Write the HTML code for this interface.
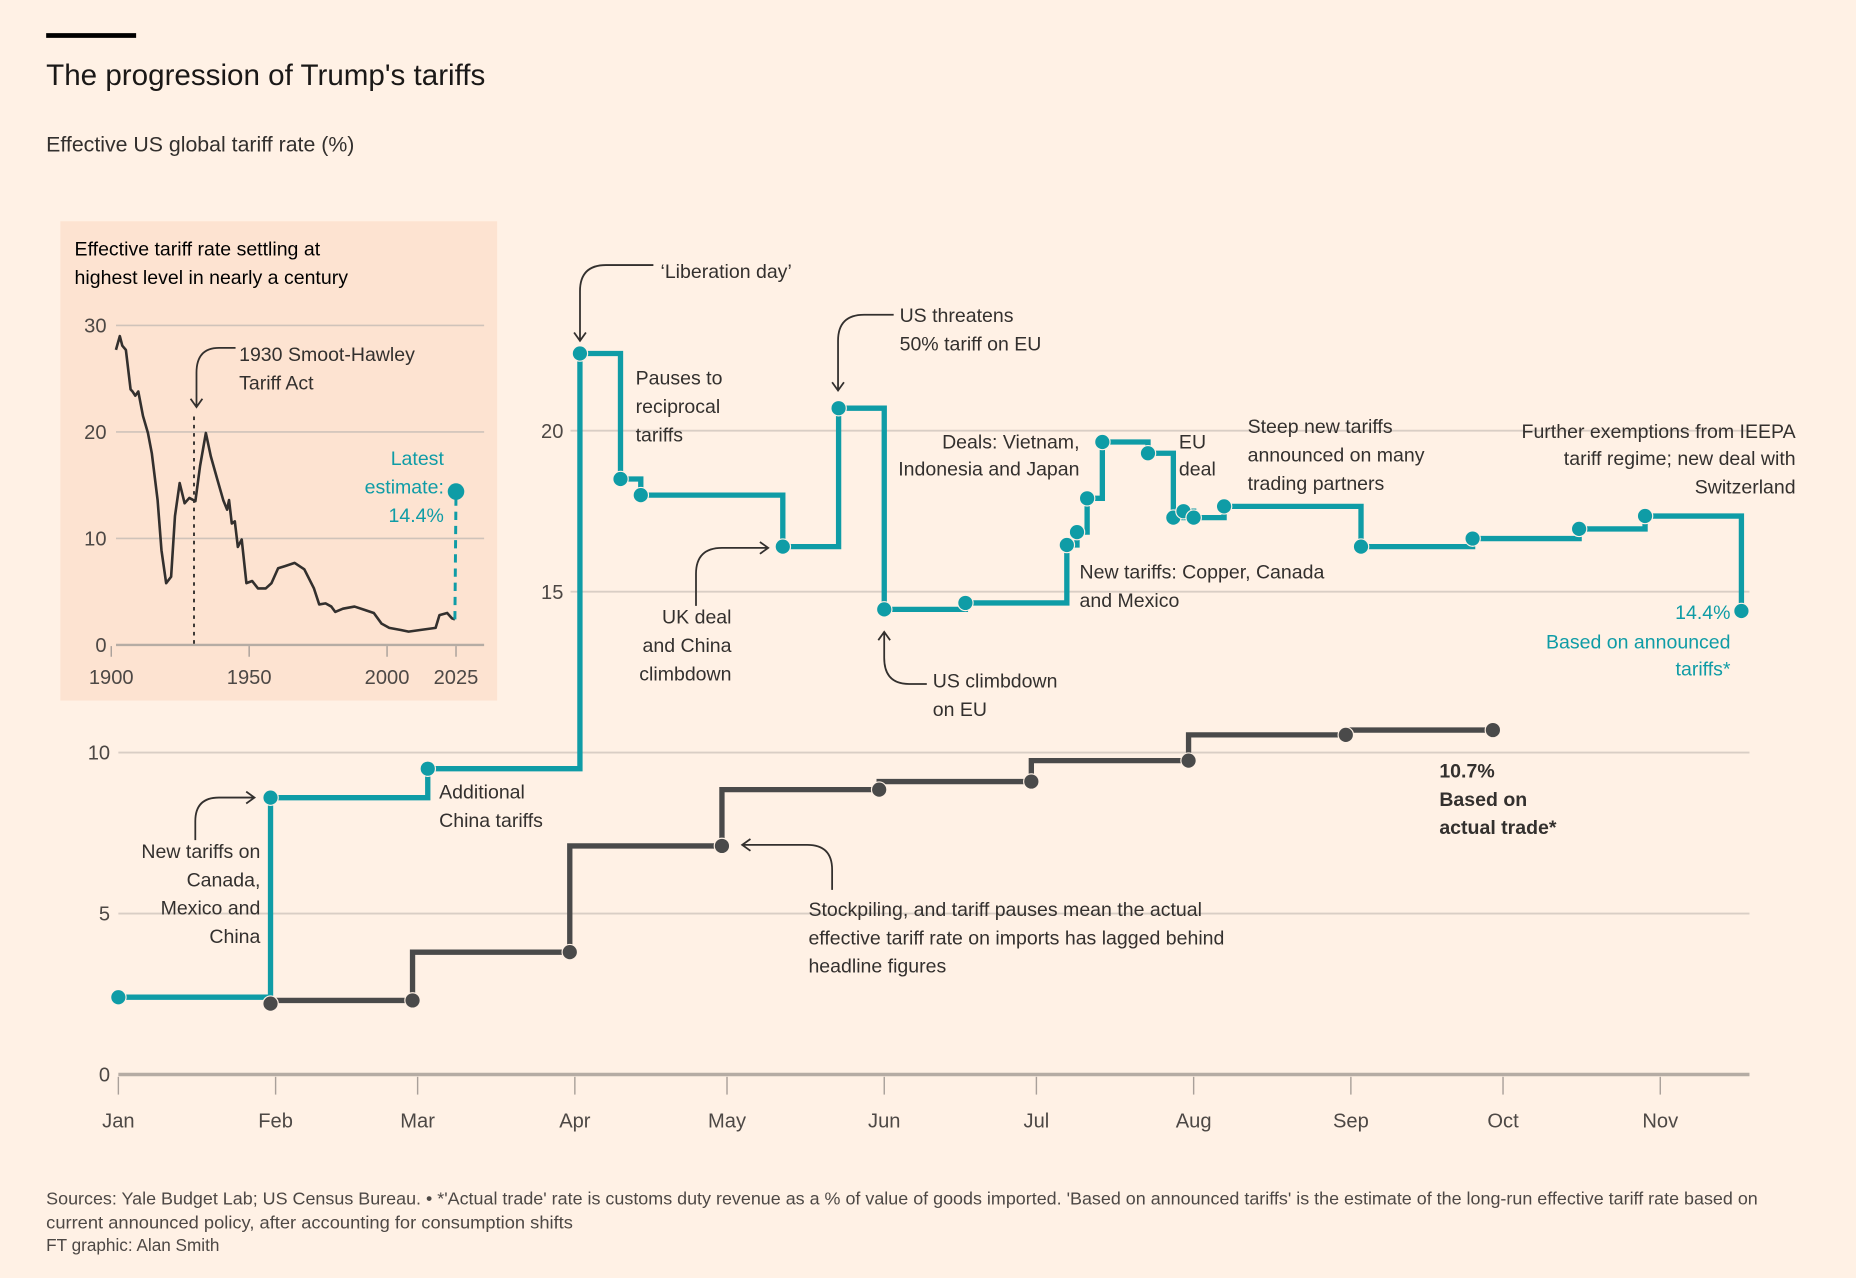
<!DOCTYPE html>
<html><head><meta charset="utf-8"><style>
html,body{margin:0;padding:0;background:#fff1e5;}
svg{display:block;font-family:"Liberation Sans",sans-serif;}
.ann{font-size:16.5px;fill:#33302e;}
.tk{font-size:17px;fill:#4d4845;}
</style></head><body>
<svg id="chart" width="1856" height="1278" viewBox="0 0 1568 1080" preserveAspectRatio="none" xmlns="http://www.w3.org/2000/svg">
<rect x="0" y="0" width="1568" height="1080" fill="#fff1e5"/>
<rect x="39" y="28" width="76" height="4" fill="#000"/>
<text x="39" y="72" font-size="25" fill="#1a1817">The progression of Trump's tariffs</text>
<text x="39" y="128" font-size="18" fill="#33302e">Effective US global tariff rate (%)</text>

<g id="inset">
<rect x="51" y="187" width="369" height="405" fill="#fde3d1"/>
<text x="63" y="216" font-size="16.5" fill="#000">Effective tariff rate settling at</text>
<text x="63" y="240" font-size="16.5" fill="#000">highest level in nearly a century</text>
<g id="inset-grid"></g>
<text class="ann" x="202" y="305">1930 Smoot-Hawley</text>
<text class="ann" x="202" y="329">Tariff Act</text>
<path d="M199,294 H185 Q166,294 166,315 V344 M161,337 L166,344 L171,337" fill="none" stroke="#33302e" stroke-width="1.5"/>
<text font-size="16.5" fill="#0f9ca6" text-anchor="end" x="375" y="393">Latest</text>
<text font-size="16.5" fill="#0f9ca6" text-anchor="end" x="375" y="417">estimate:</text>
<text font-size="16.5" fill="#0f9ca6" text-anchor="end" x="375" y="441">14.4%</text>
</g>

<g id="main-grid"></g>
<g id="main-series"></g>

<g>
<text class="ann" x="558" y="235">‘Liberation day’</text>
<path d="M552,224 H512 Q490,224 490,246 V288 M485,281 L490,288 L495,281" fill="none" stroke="#33302e" stroke-width="1.5"/>
<text class="ann" x="537" y="325">Pauses to</text>
<text class="ann" x="537" y="349">reciprocal</text>
<text class="ann" x="537" y="373">tariffs</text>
<text class="ann" x="760" y="272">US threatens</text>
<text class="ann" x="760" y="296">50% tariff on EU</text>
<path d="M755,266 H730 Q708,266 708,288 V330 M703,323 L708,330 L713,323" fill="none" stroke="#33302e" stroke-width="1.5"/>
<text class="ann" text-anchor="end" x="912" y="379">Deals: Vietnam,</text>
<text class="ann" text-anchor="end" x="912" y="402">Indonesia and Japan</text>
<text class="ann" x="996" y="379">EU</text>
<text class="ann" x="996" y="402">deal</text>
<text class="ann" x="1054" y="366">Steep new tariffs</text>
<text class="ann" x="1054" y="390">announced on many</text>
<text class="ann" x="1054" y="414">trading partners</text>
<text class="ann" text-anchor="end" x="1517" y="370">Further exemptions from IEEPA</text>
<text class="ann" text-anchor="end" x="1517" y="393">tariff regime; new deal with</text>
<text class="ann" text-anchor="end" x="1517" y="417">Switzerland</text>
<text class="ann" x="912" y="489">New tariffs: Copper, Canada</text>
<text class="ann" x="912" y="513">and Mexico</text>
<text font-size="16.5" fill="#0f9ca6" text-anchor="end" x="1462" y="523">14.4%</text>
<text font-size="16.5" fill="#0f9ca6" text-anchor="end" x="1462" y="548">Based on announced</text>
<text font-size="16.5" fill="#0f9ca6" text-anchor="end" x="1462" y="571">tariffs*</text>
<text class="ann" text-anchor="end" x="618" y="527">UK deal</text>
<text class="ann" text-anchor="end" x="618" y="551">and China</text>
<text class="ann" text-anchor="end" x="618" y="575">climbdown</text>
<path d="M588,512 V485 Q588,463 610,463 H649 M642,458 L649,463 L642,468" fill="none" stroke="#33302e" stroke-width="1.5"/>
<text class="ann" x="788" y="581">US climbdown</text>
<text class="ann" x="788" y="605">on EU</text>
<path d="M783,578 H768 Q747,578 747,556 V534 M742,541 L747,534 L752,541" fill="none" stroke="#33302e" stroke-width="1.5"/>
<text class="ann" x="371" y="675">Additional</text>
<text class="ann" x="371" y="699">China tariffs</text>
<text class="ann" text-anchor="end" x="220" y="725">New tariffs on</text>
<text class="ann" text-anchor="end" x="220" y="749">Canada,</text>
<text class="ann" text-anchor="end" x="220" y="773">Mexico and</text>
<text class="ann" text-anchor="end" x="220" y="797">China</text>
<path d="M165,710 V694 Q165,674 185,674 H215 M208,669 L215,674 L208,679" fill="none" stroke="#33302e" stroke-width="1.5"/>
<text font-size="16.5" font-weight="bold" fill="#33302e" x="1216" y="657">10.7%</text>
<text font-size="16.5" font-weight="bold" fill="#33302e" x="1216" y="681">Based on</text>
<text font-size="16.5" font-weight="bold" fill="#33302e" x="1216" y="705">actual trade*</text>
<text class="ann" x="683" y="774">Stockpiling, and tariff pauses mean the actual</text>
<text class="ann" x="683" y="798">effective tariff rate on imports has lagged behind</text>
<text class="ann" x="683" y="822">headline figures</text>
<path d="M703,752 V735 Q703,714 682,714 H627 M634,709 L627,714 L634,719" fill="none" stroke="#33302e" stroke-width="1.5"/>
</g>

<g>
<text x="39" y="1018" font-size="14.5" fill="#4d4845" textLength="1446" lengthAdjust="spacingAndGlyphs">Sources: Yale Budget Lab; US Census Bureau. • *'Actual trade' rate is customs duty revenue as a % of value of goods imported. 'Based on announced tariffs' is the estimate of the long-run effective tariff rate based on</text>
<text x="39" y="1038" font-size="14.5" fill="#4d4845" textLength="445" lengthAdjust="spacingAndGlyphs">current announced policy, after accounting for consumption shifts</text>
<text x="39" y="1057" font-size="14.5" fill="#4d4845">FT graphic: Alan Smith</text>
</g>
</svg>
<script>
// ---- main chart data ----
const announcedDates = ["2025-01-01","2025-01-31","2025-03-03","2025-04-02","2025-04-10","2025-04-14","2025-05-12","2025-05-23","2025-06-01","2025-06-17","2025-07-07","2025-07-09","2025-07-11","2025-07-14","2025-07-23","2025-07-28","2025-07-30","2025-08-01","2025-08-07","2025-09-03","2025-09-25","2025-10-16","2025-10-29","2025-11-17"];
const announcedValues = [2.4,8.6,9.5,22.4,18.5,18.0,16.4,20.7,14.45,14.65,16.45,16.85,17.9,19.65,19.3,17.3,17.5,17.3,17.65,16.4,16.65,16.95,17.35,14.4];
const actualDates = ["2025-01-31","2025-02-28","2025-03-31","2025-04-30","2025-05-31","2025-06-30","2025-07-31","2025-08-31","2025-09-29"];
const actualValues = [2.2,2.3,3.8,7.1,8.85,9.1,9.75,10.55,10.7];
const monthLabels = ["Jan","Feb","Mar","Apr","May","Jun","Jul","Aug","Sep","Oct","Nov"];
const yTicks = [0,5,10,15,20];
// ---- inset data ----
const insetYears = [1901.7,1903.1,1904,1905.3,1907,1907.7,1908.7,1909.8,1911.5,1913.3,1914.7,1916.8,1918.2,1919.9,1921.7,1923.1,1924.8,1926.6,1928.3,1930.5,1932.2,1934.3,1936.1,1938.5,1940.6,1942,1942.7,1943.7,1944.8,1945.9,1947.3,1949,1951.1,1953.2,1956,1958.1,1960.5,1963,1966.5,1970,1973.5,1975.4,1977.7,1979.8,1981.2,1984,1988.2,1991.7,1995.2,1998,2000.8,2005,2007.8,2012,2017.6,2019,2021.8,2023.5,2024.6];
const insetValues = [27.7,29.0,28.1,27.7,24.0,23.8,23.4,23.8,21.5,19.9,18.0,13.6,8.9,5.8,6.4,12.1,15.2,13.3,13.8,13.5,16.8,19.9,17.7,15.5,13.6,12.7,13.6,11.4,11.6,9.2,9.9,5.8,6.0,5.3,5.3,5.8,7.2,7.4,7.7,7.1,5.3,3.8,3.9,3.6,3.1,3.4,3.6,3.3,3.0,2.0,1.6,1.4,1.25,1.4,1.6,2.8,3.0,2.5,2.4];
const insetLatestYear = 2025;
const insetLatestValue = 14.4;
const insetYTicks = [0,10,20,30];
const insetXTicks = [1900,1950,2000,2025];
const smootHawleyYear = 1930;

const NS = "http://www.w3.org/2000/svg";
function mk(tag, attrs, parent){const e=document.createElementNS(NS,tag);for(const k in attrs)e.setAttribute(k,attrs[k]);parent.appendChild(e);return e;}
const t0 = Date.UTC(2025,0,1);
function doy(s){const p=s.split("-");return (Date.UTC(+p[0],+p[1]-1,+p[2])-t0)/86400000;}
const xS = d => 100 + d*4.285;
const yS = v => 908 - v*27.2;
const ixS = yr => 94 + (yr-1900)*2.33;
const iyS = v => 545 - v*9;

// main grid
const grid = document.getElementById("main-grid");
yTicks.forEach(v=>{
  const x0 = v>=15 ? 482 : 100;
  const l = mk("line",{x1:x0,x2:1478,y1:yS(v),y2:yS(v),stroke:v===0?"#b5aca4":"#d9cec5","stroke-width":v===0?3:1.6},grid);
  
  
  const t = mk("text",{x:v>=15?476:93,y:yS(v)+6,"text-anchor":"end",class:"tk"},grid);
  t.textContent = v;
  
  
});
monthLabels.forEach((m,i)=>{
  const x = xS(doy("2025-"+String(i+1).padStart(2,"0")+"-01"));
  const tk = mk("line",{x1:x,x2:x,y1:910,y2:925,stroke:"#a9a09a","stroke-width":1.2},grid);
  
  
  const t = mk("text",{x:x,y:953,"text-anchor":"middle",class:"tk"},grid);
  t.textContent = m;
  
  
});

// series
const ser = document.getElementById("main-series");
function stepAfter(ds,vs){let d="";ds.forEach((s,i)=>{const x=xS(doy(s)),y=yS(vs[i]);if(i===0)d+="M"+x+","+y;else d+=" H"+x+" V"+y;});return d;}
function stepBefore(ds,vs){let d="";ds.forEach((s,i)=>{const x=xS(doy(s)),y=yS(vs[i]);if(i===0)d+="M"+x+","+y;else d+=" V"+y+" H"+x;});return d;}
const pA = mk("path",{d:stepBefore(actualDates,actualValues),fill:"none",stroke:"#4a4a4a","stroke-width":4.5},ser);


const pB = mk("path",{d:stepAfter(announcedDates,announcedValues),fill:"none",stroke:"#0f9ca6","stroke-width":4.5},ser);


actualDates.forEach((s,i)=>{
  const c = mk("circle",{cx:xS(doy(s)),cy:yS(actualValues[i]),r:6.5,fill:"#4a4a4a",stroke:"#fff1e5","stroke-width":1},ser);
  
  
});
announcedDates.forEach((s,i)=>{
  const c = mk("circle",{cx:xS(doy(s)),cy:yS(announcedValues[i]),r:6.5,fill:"#0f9ca6",stroke:"#fff1e5","stroke-width":1},ser);
  
  
});

// inset
const ig = document.getElementById("inset-grid");
insetYTicks.forEach(v=>{
  const l = mk("line",{x1:98,x2:409,y1:iyS(v),y2:iyS(v),stroke:v===0?"#b5aca4":"#cfc3ba","stroke-width":v===0?2:1.4},ig);
  
  
  const t = mk("text",{x:90,y:iyS(v)+6,"text-anchor":"end",class:"tk"},ig);
  t.textContent = v;
  
  
});
insetXTicks.forEach(yr=>{
  const x = ixS(yr);
  const tk = mk("line",{x1:x,x2:x,y1:546,y2:555,stroke:"#a9a09a","stroke-width":1.2},ig);
  
  
  const t = mk("text",{x:x,y:578,"text-anchor":"middle",class:"tk"},ig);
  t.textContent = yr;
  
  
});
const sh = mk("line",{x1:ixS(smootHawleyYear),x2:ixS(smootHawleyYear),y1:352,y2:545,stroke:"#33302e","stroke-width":1.6,"stroke-dasharray":"3,4"},ig);


let id = "";
insetYears.forEach((yr,i)=>{id += (i?" L":"M")+ixS(yr)+","+iyS(insetValues[i]);});
const il = mk("path",{d:id,fill:"none",stroke:"#33302e","stroke-width":2.2,"stroke-linejoin":"round"},ig);


const lastI = insetYears.length-1;
const dl = mk("line",{x1:ixS(insetYears[lastI]),y1:iyS(insetValues[lastI]),x2:ixS(insetLatestYear),y2:iyS(insetLatestValue),stroke:"#0f9ca6","stroke-width":2.5,"stroke-dasharray":"7,5"},ig);


const ld = mk("circle",{cx:ixS(insetLatestYear),cy:iyS(insetLatestValue),r:7,fill:"#0f9ca6"},ig);


</script>
</body></html>
